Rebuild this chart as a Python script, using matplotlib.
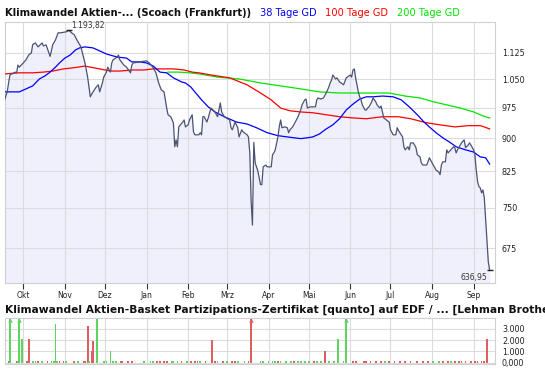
import pandas as pd
import numpy as np
import matplotlib
matplotlib.use("Agg")
import matplotlib.pyplot as plt
from matplotlib.ticker import FixedLocator, FixedFormatter, NullLocator

plt.rcParams['font.family'] = ['DejaVu Sans']

# daily close
price_dates = [
    "2007-09-17", "2007-09-19", "2007-09-20", "2007-09-21", "2007-09-24", "2007-09-25",
    "2007-09-26", "2007-09-27", "2007-09-28", "2007-10-01", "2007-10-03", "2007-10-05",
    "2007-10-07", "2007-10-08", "2007-10-10", "2007-10-12", "2007-10-15", "2007-10-16",
    "2007-10-18", "2007-10-21", "2007-10-23", "2007-10-25", "2007-10-27", "2007-10-29",
    "2007-11-02", "2007-11-04", "2007-11-06", "2007-11-08", "2007-11-10", "2007-11-13",
    "2007-11-16", "2007-11-18", "2007-11-20", "2007-11-21", "2007-11-24", "2007-11-26",
    "2007-11-27", "2007-11-29", "2007-11-30", "2007-12-02", "2007-12-03", "2007-12-05",
    "2007-12-06", "2007-12-07", "2007-12-10", "2007-12-11", "2007-12-12", "2007-12-15",
    "2007-12-17", "2007-12-20", "2007-12-21", "2007-12-22", "2007-12-27", "2008-01-01",
    "2008-01-03", "2008-01-06", "2008-01-08", "2008-01-10", "2008-01-12", "2008-01-14",
    "2008-01-16", "2008-01-17", "2008-01-19", "2008-01-21", "2008-01-22", "2008-01-23",
    "2008-01-24", "2008-01-25", "2008-01-28", "2008-01-29", "2008-01-30", "2008-02-01",
    "2008-02-02", "2008-02-04", "2008-02-05", "2008-02-06", "2008-02-09", "2008-02-10",
    "2008-02-11", "2008-02-12", "2008-02-13", "2008-02-15", "2008-02-16", "2008-02-18",
    "2008-02-21", "2008-02-23", "2008-02-24", "2008-02-25", "2008-02-26", "2008-02-28",
    "2008-03-03", "2008-03-04", "2008-03-05", "2008-03-07", "2008-03-08", "2008-03-09",
    "2008-03-10", "2008-03-12", "2008-03-13", "2008-03-16", "2008-03-17", "2008-03-18",
    "2008-03-19", "2008-03-20", "2008-03-21", "2008-03-22", "2008-03-24", "2008-03-26",
    "2008-03-27", "2008-03-28", "2008-03-30", "2008-03-31", "2008-04-03", "2008-04-04",
    "2008-04-05", "2008-04-06", "2008-04-08", "2008-04-09", "2008-04-10", "2008-04-11",
    "2008-04-13", "2008-04-15", "2008-04-16", "2008-04-17", "2008-04-19", "2008-04-21",
    "2008-04-23", "2008-04-25", "2008-04-26", "2008-04-28", "2008-04-29", "2008-04-30",
    "2008-05-02", "2008-05-04", "2008-05-06", "2008-05-07", "2008-05-08", "2008-05-10",
    "2008-05-12", "2008-05-14", "2008-05-16", "2008-05-17", "2008-05-18", "2008-05-19",
    "2008-05-21", "2008-05-22", "2008-05-24", "2008-05-27", "2008-05-29", "2008-06-01",
    "2008-06-02", "2008-06-03", "2008-06-04", "2008-06-05", "2008-06-07", "2008-06-08",
    "2008-06-09", "2008-06-10", "2008-06-12", "2008-06-13", "2008-06-14", "2008-06-15",
    "2008-06-17", "2008-06-18", "2008-06-20", "2008-06-21", "2008-06-23", "2008-06-24",
    "2008-06-25", "2008-06-26", "2008-06-28", "2008-06-30", "2008-07-01", "2008-07-03",
    "2008-07-05", "2008-07-06", "2008-07-07", "2008-07-09", "2008-07-10", "2008-07-11",
    "2008-07-12", "2008-07-14", "2008-07-15", "2008-07-16", "2008-07-18", "2008-07-19",
    "2008-07-20", "2008-07-21", "2008-07-23", "2008-07-24", "2008-07-25", "2008-07-28",
    "2008-07-29", "2008-07-30", "2008-08-01", "2008-08-02", "2008-08-04", "2008-08-06",
    "2008-08-07", "2008-08-08", "2008-08-09", "2008-08-11", "2008-08-12", "2008-08-13",
    "2008-08-15", "2008-08-17", "2008-08-18", "2008-08-19", "2008-08-20", "2008-08-23",
    "2008-08-25", "2008-08-26", "2008-08-28", "2008-08-29", "2008-08-30", "2008-09-01",
    "2008-09-02", "2008-09-03", "2008-09-04", "2008-09-05", "2008-09-06", "2008-09-07",
    "2008-09-08", "2008-09-09", "2008-09-10", "2008-09-11", "2008-09-12", "2008-09-13",
]
price_values = [
    995, 1016, 1040, 1062, 1068, 1070,
    1068, 1090, 1084, 1096, 1105, 1119,
    1125, 1150, 1155, 1143, 1155, 1146,
    1149, 1115, 1150, 1164, 1186, 1186,
    1189, 1193.82, 1186, 1180, 1164, 1143,
    1096, 1056, 1003, 1010, 1027, 1035,
    1016, 1040, 1056, 1070, 1084, 1070,
    1096, 1105, 1113, 1119, 1105, 1090,
    1084, 1068, 1090, 1096, 1099, 1102,
    1096, 1082, 1068, 1040, 1021, 1016,
    974, 957, 952, 937, 880, 896,
    880, 927, 939, 944, 927, 932,
    944, 957, 915, 908, 908, 913,
    908, 952, 952, 939, 949, 974,
    964, 952, 969, 987, 964, 952,
    944, 925, 920, 939, 932, 925,
    903, 920, 915, 908, 903, 866,
    764, 717, 890, 844, 826, 797,
    797, 835, 839, 835, 835, 862,
    866, 873, 903, 927, 944, 925,
    927, 925, 913, 920, 927, 939,
    952, 969, 982, 995, 997, 974,
    977, 977, 977, 995, 1000, 997,
    1000, 1013, 1029, 1040, 1048, 1062,
    1051, 1054, 1043, 1035, 1054, 1062,
    1056, 1076, 1079, 1054, 1016, 1003,
    995, 982, 969, 969, 974, 977,
    990, 1000, 990, 982, 974, 979,
    964, 949, 944, 939, 920, 908,
    908, 925, 918, 908, 903, 880,
    873, 880, 873, 889, 889, 884,
    878, 862, 857, 844, 839, 839,
    846, 855, 844, 839, 828, 824,
    818, 839, 846, 846, 873, 866,
    873, 880, 878, 866, 873, 889,
    896, 878, 884, 889, 884, 873,
    862, 828, 803, 793, 790, 780,
    786, 770, 727, 684, 651, 636.95,
]

# moving averages
ma38_dates = [
    "2007-09-17", "2007-09-28", "2007-10-03", "2007-10-08", "2007-10-13", "2007-10-17",
    "2007-10-21", "2007-10-25", "2007-10-28", "2007-11-01", "2007-11-05", "2007-11-09",
    "2007-11-12", "2007-11-16", "2007-11-22", "2007-11-27", "2007-12-02", "2007-12-10",
    "2007-12-17", "2007-12-21", "2007-12-27", "2008-01-01", "2008-01-06", "2008-01-11",
    "2008-01-16", "2008-01-21", "2008-01-27", "2008-01-30", "2008-02-03", "2008-02-06",
    "2008-02-11", "2008-02-16", "2008-02-21", "2008-02-28", "2008-03-08", "2008-03-16",
    "2008-03-23", "2008-03-31", "2008-04-08", "2008-04-15", "2008-04-20", "2008-04-25",
    "2008-04-30", "2008-05-04", "2008-05-09", "2008-05-14", "2008-05-19", "2008-05-24",
    "2008-05-29", "2008-06-03", "2008-06-08", "2008-06-13", "2008-06-18", "2008-06-25",
    "2008-07-03", "2008-07-09", "2008-07-15", "2008-07-21", "2008-07-26", "2008-07-30",
    "2008-08-04", "2008-08-09", "2008-08-14", "2008-08-19", "2008-08-26", "2008-09-01",
    "2008-09-06", "2008-09-10", "2008-09-13",
]
ma38_values = [
    1016, 1016, 1024, 1032, 1051, 1059,
    1070, 1084, 1096, 1110, 1119, 1134,
    1140, 1143, 1140, 1131, 1122, 1113,
    1110, 1099, 1099, 1096, 1087, 1070,
    1068, 1054, 1043, 1040, 1029, 1016,
    995, 977, 964, 952, 939, 934,
    925, 913, 906, 903, 901, 899,
    901, 903, 910, 922, 932, 947,
    969, 984, 997, 1003, 1003, 1005,
    1003, 995, 977, 957, 939, 927,
    913, 901, 891, 880, 873, 868,
    857, 855, 841,
]

ma100_dates = [
    "2007-09-17", "2007-09-28", "2007-10-08", "2007-10-16", "2007-10-23", "2007-10-31",
    "2007-11-07", "2007-11-16", "2007-11-20", "2007-11-27", "2007-12-05", "2007-12-12",
    "2007-12-22", "2007-12-30", "2008-01-06", "2008-01-11", "2008-01-21", "2008-01-29",
    "2008-02-04", "2008-02-09", "2008-02-18", "2008-03-03", "2008-03-16", "2008-03-26",
    "2008-04-03", "2008-04-10", "2008-04-17", "2008-04-25", "2008-05-04", "2008-05-14",
    "2008-05-24", "2008-06-03", "2008-06-13", "2008-06-25", "2008-07-07", "2008-07-16",
    "2008-07-28", "2008-08-07", "2008-08-18", "2008-08-28", "2008-09-06", "2008-09-09",
    "2008-09-13",
]
ma100_values = [
    1065, 1068, 1068, 1070, 1073, 1079,
    1082, 1087, 1084, 1079, 1073, 1073,
    1076, 1076, 1079, 1079, 1079, 1076,
    1070, 1068, 1062, 1054, 1035, 1013,
    995, 974, 967, 964, 962, 957,
    952, 949, 947, 952, 952, 947,
    937, 932, 927, 930, 930, 927,
    922,
]

ma200_dates = [
    "2008-01-17", "2008-01-25", "2008-02-02", "2008-02-09", "2008-02-23", "2008-03-10",
    "2008-03-26", "2008-04-10", "2008-04-25", "2008-05-09", "2008-05-24", "2008-06-08",
    "2008-06-18", "2008-06-30", "2008-07-12", "2008-07-23", "2008-08-02", "2008-08-12",
    "2008-08-22", "2008-09-01", "2008-09-08", "2008-09-13",
]
ma200_values = [
    1070, 1070, 1068, 1065, 1056, 1051,
    1040, 1032, 1024, 1016, 1013, 1013,
    1013, 1013, 1005, 1000, 990, 982,
    974, 964, 954, 949,
]

# turnover (pieces); values above the panel get an arrow
vol_dates = [
    "2007-09-20", "2007-09-21", "2007-09-26", "2007-09-27", "2007-09-28", "2007-09-30",
    "2007-10-04", "2007-10-05", "2007-10-08", "2007-10-10", "2007-10-12", "2007-10-15",
    "2007-10-19", "2007-10-22", "2007-10-24", "2007-10-25", "2007-10-26", "2007-10-28",
    "2007-10-31", "2007-11-02", "2007-11-08", "2007-11-11", "2007-11-15", "2007-11-16",
    "2007-11-18", "2007-11-19", "2007-11-21", "2007-11-22", "2007-11-25", "2007-11-30",
    "2007-12-02", "2007-12-05", "2007-12-07", "2007-12-09", "2007-12-13", "2007-12-14",
    "2007-12-18", "2007-12-21", "2007-12-30", "2008-01-04", "2008-01-06", "2008-01-09",
    "2008-01-11", "2008-01-14", "2008-01-16", "2008-01-20", "2008-01-21", "2008-01-24",
    "2008-01-27", "2008-01-31", "2008-02-03", "2008-02-06", "2008-02-08", "2008-02-10",
    "2008-02-14", "2008-02-19", "2008-02-21", "2008-02-23", "2008-02-27", "2008-03-01",
    "2008-03-05", "2008-03-07", "2008-03-09", "2008-03-14", "2008-03-17", "2008-03-19",
    "2008-03-26", "2008-03-28", "2008-04-01", "2008-04-04", "2008-04-06", "2008-04-08",
    "2008-04-10", "2008-04-14", "2008-04-18", "2008-04-20", "2008-04-23", "2008-04-25",
    "2008-04-28", "2008-05-01", "2008-05-05", "2008-05-07", "2008-05-10", "2008-05-13",
    "2008-05-16", "2008-05-20", "2008-05-23", "2008-05-27", "2008-05-29", "2008-06-03",
    "2008-06-05", "2008-06-11", "2008-06-13", "2008-06-16", "2008-06-20", "2008-06-24",
    "2008-06-27", "2008-06-30", "2008-07-04", "2008-07-08", "2008-07-12", "2008-07-16",
    "2008-07-21", "2008-07-25", "2008-07-29", "2008-08-02", "2008-08-06", "2008-08-09",
    "2008-08-13", "2008-08-15", "2008-08-18", "2008-08-21", "2008-08-23", "2008-08-26",
    "2008-08-30", "2008-09-02", "2008-09-04", "2008-09-07", "2008-09-09", "2008-09-11",
]
vol_values = [
    150, 5000, 150, 150, 5000, 2100,
    150, 2100, 150, 150, 150, 150,
    150, 150, 150, 3400, 150, 150,
    150, 150, 150, 150, 150, 150,
    3250, 150, 1050, 1950, 3900, 150,
    150, 1050, 150, 150, 150, 150,
    150, 150, 150, 150, 150, 150,
    150, 150, 150, 150, 150, 150,
    150, 150, 150, 150, 150, 150,
    150, 2000, 150, 150, 150, 150,
    150, 150, 150, 150, 150, 5000,
    150, 150, 150, 150, 150, 150,
    150, 150, 150, 150, 150, 150,
    150, 150, 150, 150, 150, 1050,
    150, 150, 2100, 150, 5000, 150,
    150, 150, 150, 150, 150, 150,
    150, 150, 150, 150, 150, 150,
    150, 150, 150, 150, 150, 150,
    150, 150, 150, 150, 150, 150,
    150, 150, 150, 150, 150, 2100,
]
vol_up = [
    False, True, False, True, True, True,
    False, False, True, True, False, True,
    False, True, True, True, True, False,
    False, True, False, True, False, False,
    False, True, False, False, True, True,
    True, True, True, True, False, False,
    False, False, True, True, True, False,
    False, False, False, True, True, True,
    False, True, False, False, False, True,
    False, False, False, True, False, True,
    False, False, True, True, False, False,
    True, True, True, True, True, False,
    True, True, True, False, True, True,
    True, True, False, True, True, False,
    True, True, True, True, True, False,
    False, False, False, False, False, False,
    True, False, False, False, False, False,
    False, False, False, True, True, False,
    False, True, False, False, False, False,
    False, False, False, False, False, False,
]

month_labels = ["Okt", "Nov", "Dez", "Jan", "Feb", "Mrz", "Apr", "Mai", "Jun", "Jul", "Aug", "Sep"]
price_ticks = [675, 750, 825, 900, 975, 1050, 1125]
price_tick_labels = ["675", "750", "825", "900", "975", "1.050", "1.125"]
vol_ticks = [0, 1000, 2000, 3000]
vol_tick_labels = ["0,000", "1.000", "2.000", "3.000"]

W, H = 545, 370


def box(l, t, r, b):
    return [l / W, 1 - b / H, (r - l) / W, (b - t) / H]


fig = plt.figure(figsize=(W / 100, H / 100), dpi=100)
months = pd.date_range("2007-10-01", "2008-09-01", freq="MS")
xlim = (pd.Timestamp("2007-09-17 08:00"), pd.Timestamp("2008-09-17"))
grid_c = "#dcdcdc"

ax = fig.add_axes(box(5, 22, 495, 283))
pdates = pd.to_datetime(price_dates)
ax.fill_between(pdates, price_values, 500, color="#f0f0fc", lw=0, zorder=0.2)
ax.plot(pd.to_datetime(ma200_dates), ma200_values, color="#00e600", lw=0.9, zorder=3)
ax.plot(pd.to_datetime(ma100_dates), ma100_values, color="#ff0000", lw=0.9, zorder=3)
ax.plot(pd.to_datetime(ma38_dates), ma38_values, color="#0000ff", lw=0.9, zorder=3)
ax.plot(pdates, price_values, color="#4b5373", lw=0.9, zorder=4)

ax.set_yscale("log")
ax.set_ylim(616, 1220)
ax.set_xlim(*xlim)
ax.yaxis.set_major_locator(FixedLocator(price_ticks))
ax.yaxis.set_major_formatter(FixedFormatter(price_tick_labels))
ax.yaxis.set_minor_locator(NullLocator())
ax.yaxis.tick_right()
ax.tick_params(axis="y", length=0, pad=5, labelsize=5.8, labelcolor="#222222")
ax.set_xticks(months)
ax.set_xticklabels(month_labels)
ax.xaxis.set_minor_locator(NullLocator())
ax.tick_params(axis="x", length=4, width=0.8, color="#333333", labelsize=5.5, pad=1.5,
               labelcolor="#222222")
ax.set_axisbelow(True)
ax.grid(True, color=grid_c, lw=0.8)
for s in ax.spines.values():
    s.set_color("#d0d0d0")
    s.set_linewidth(0.8)

# high / last markers
i_hi = int(np.argmax(price_values))
ax.plot(pdates[i_hi], price_values[i_hi], marker="_", ms=5, mew=1, color="#222222", zorder=5)
ax.annotate("1.193,82", (pdates[i_hi], price_values[i_hi]), xytext=(1.5, 3.6),
            textcoords="offset points", fontsize=5.5, color="#333333", ha="left", va="center")
ax.plot(pdates[-1], price_values[-1], marker="_", ms=5, mew=1, color="#222222", zorder=5)
ax.annotate("636,95", (pdates[-1], price_values[-1]), xytext=(-1.5, -2),
            textcoords="offset points", fontsize=5.5, color="#333333", ha="right", va="top")

# volume panel
vax = fig.add_axes(box(5, 318, 495, 364))
vtop = 3980
vdates = pd.to_datetime(vol_dates)
vcols = ["#5fd35f" if u else "#dd5f5f" for u in vol_up]
vax.bar(vdates, np.minimum(vol_values, vtop), width=1.3, color=vcols, lw=0, zorder=2)
for d, v, c in zip(vdates, vol_values, vcols):
    if v > vtop:
        vax.plot(d, vtop - 200, marker="^", ms=3.2, color=c, mew=0, zorder=3)
vax.set_xlim(*xlim)
vax.set_ylim(-130, vtop)
vax.set_xticks(months)
vax.tick_params(axis="x", length=0, labelbottom=False)
vax.yaxis.set_major_locator(FixedLocator(vol_ticks))
vax.yaxis.set_major_formatter(FixedFormatter(vol_tick_labels))
vax.yaxis.tick_right()
vax.tick_params(axis="y", length=0, pad=5, labelsize=5.8, labelcolor="#222222")
vax.set_axisbelow(True)
vax.grid(True, color=grid_c, lw=0.8)
for s in vax.spines.values():
    s.set_color("#d0d0d0")
    s.set_linewidth(0.8)

# header texts
fig.text(5 / W, 1 - 12.5 / H, "Klimawandel Aktien-... (Scoach (Frankfurt))", fontsize=7.2,
         weight="bold", color="#111111", va="center", ha="left")
fig.text(260 / W, 1 - 12.5 / H, "38 Tage GD", fontsize=7.1, color="#0000ff", va="center")
fig.text(325 / W, 1 - 12.5 / H, "100 Tage GD", fontsize=7.1, color="#ff0000", va="center")
fig.text(397 / W, 1 - 12.5 / H, "200 Tage GD", fontsize=7.1, color="#00e600", va="center")
# the reference cuts this one off at the right edge
fig.text(5 / W, 1 - 309.5 / H,
         "Klimawandel Aktien-Basket Partizipations-Zertifikat [quanto] auf EDF / ... [Lehman Brothers]",
         fontsize=7.7, weight="bold", color="#111111", va="center", ha="left")

fig.savefig("out.png", dpi=100, facecolor="white")
